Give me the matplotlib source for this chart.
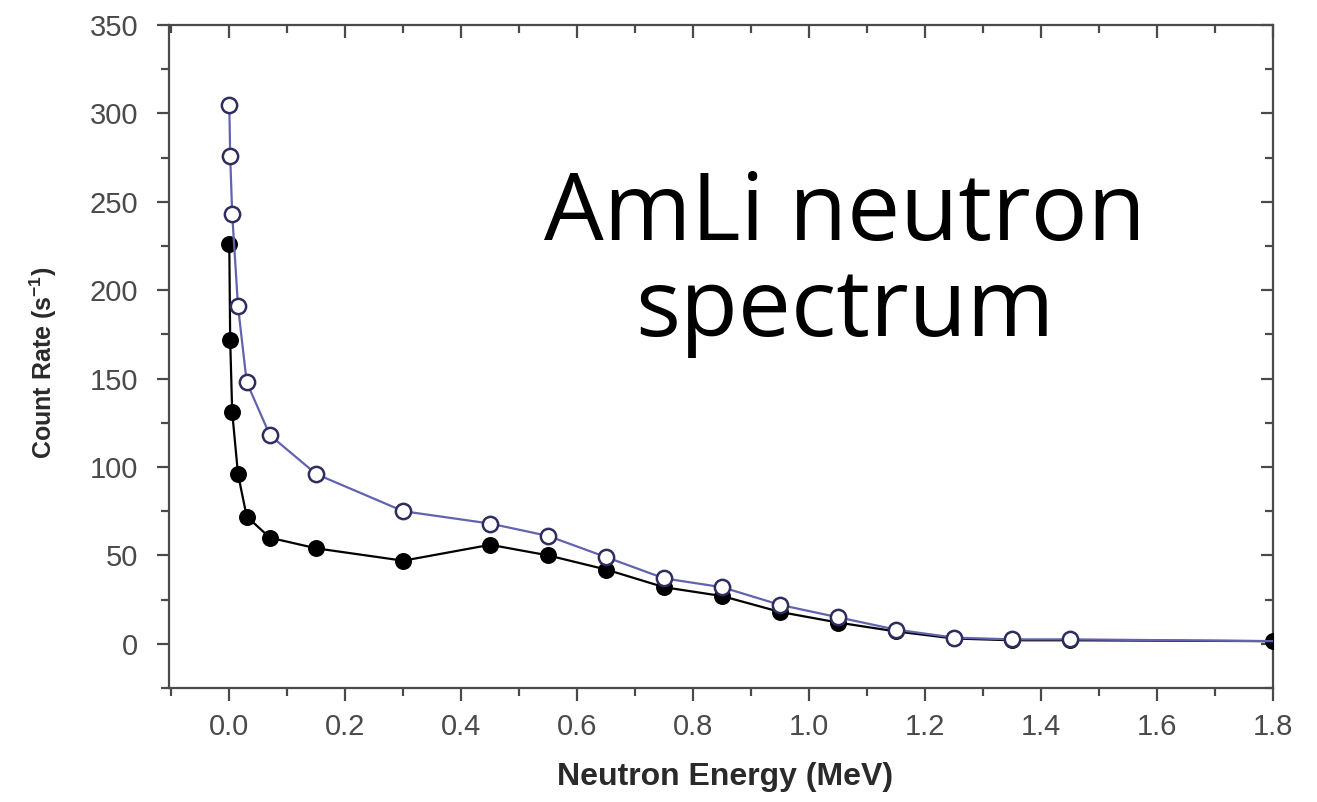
import matplotlib
matplotlib.use("Agg")
import matplotlib.pyplot as plt
from matplotlib.ticker import MultipleLocator
from matplotlib.lines import TICKDOWN, TICKLEFT

# Neutron energy bins (MeV) and measured count rates (s^-1)
energy = [0.0, 0.0015, 0.005, 0.015, 0.03, 0.07, 0.15, 0.3, 0.45, 0.55,
          0.65, 0.75, 0.85, 0.95, 1.05, 1.15, 1.25, 1.35, 1.45, 1.8]
rate_open = [305, 276, 243, 191, 148, 118, 96, 75, 68, 61,
             49, 37, 32, 22, 15, 8, 3.5, 2.5, 2.5, 1.5]
rate_filled = [226, 172, 131, 96, 72, 60, 54, 47, 56, 50,
               42, 32, 27, 18, 12, 7, 3, 2, 2, 1.5]

x_ticks = [0.0, 0.2, 0.4, 0.6, 0.8, 1.0, 1.2, 1.4, 1.6, 1.8]
y_ticks = [0, 50, 100, 150, 200, 250, 300, 350]

fig = plt.figure(figsize=(13.17, 8.02), dpi=100)
ax = fig.add_axes([169 / 1317, 1 - 688 / 802, (1273 - 169) / 1317, (688 - 25) / 802])

n = len(energy)
ax.plot(energy, rate_filled, color="black", lw=1.6, marker="o", ms=11,
        mfc="black", mec="black", mew=1.2, zorder=3)
ax.plot(energy, rate_open, color="#6262b0", lw=1.6, marker="o", ms=11,
        mfc="white", mec="#2e2e5e", mew=1.8, zorder=4,
        markevery=list(range(n - 1)))

ax.set_xlim(-0.104, 1.8)
ax.set_ylim(-25, 350)
ax.set_xticks(x_ticks)
ax.set_xticklabels([f"{v:.1f}" for v in x_ticks])
ax.set_yticks(y_ticks)
ax.xaxis.set_minor_locator(MultipleLocator(0.1))
ax.yaxis.set_minor_locator(MultipleLocator(25))

spine_col = "#4a4a4a"
for s in ax.spines.values():
    s.set_color(spine_col)
    s.set_linewidth(1.6)

ax.tick_params(which="both", direction="out", color=spine_col, width=1.6,
               labelsize=21, labelcolor="#4a4a4a", top=True, right=True)
ax.tick_params(which="major", length=9)
ax.tick_params(which="minor", length=5.5)
ax.tick_params(axis="x", which="major", pad=9)
ax.tick_params(axis="y", which="major", pad=13)
# ticks on the top and right frame point inward
for t in ax.xaxis.get_major_ticks() + ax.xaxis.get_minor_ticks():
    t.tick2line.set_marker(TICKDOWN)
for t in ax.yaxis.get_major_ticks() + ax.yaxis.get_minor_ticks():
    t.tick2line.set_marker(TICKLEFT)

for lab in ax.get_xticklabels() + ax.get_yticklabels():
    lab.set_family(["Liberation Sans", "DejaVu Sans"])

ax.set_xlabel("Neutron Energy (MeV)", fontsize=23, fontweight="bold",
              family=["Liberation Sans", "DejaVu Sans"], color="#2a2a2a")
ax.xaxis.set_label_coords(0.504, -0.112)
ax.set_ylabel("Count Rate (s$^{\\mathregular{-1}}$)", fontsize=18, fontweight="bold",
              family=["Liberation Sans", "DejaVu Sans"], color="#2a2a2a")
ax.yaxis.set_label_coords(-0.1, 0.49)

fig.text(845 / 1317, 1 - 240 / 802, "AmLi neutron", fontsize=68,
         family=["Open Sans", "DejaVu Sans"], ha="center", va="baseline", color="black")
fig.text(845 / 1317, 1 - 336 / 802, "spectrum", fontsize=68,
         family=["Open Sans", "DejaVu Sans"], ha="center", va="baseline", color="black")

fig.savefig("out.png", dpi=100)
